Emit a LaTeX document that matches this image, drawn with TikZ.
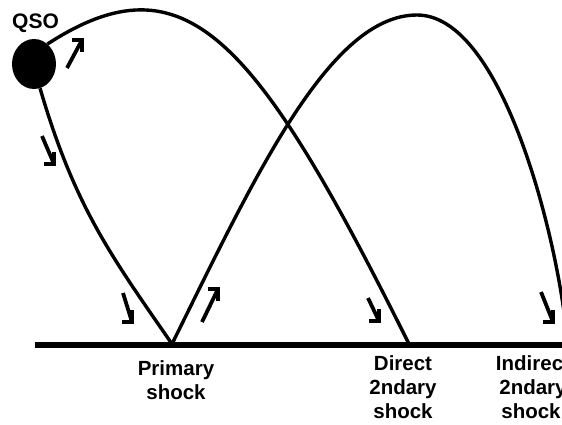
\documentclass[tikz,border=0pt]{standalone}
\usepackage{fontspec}
\setmainfont{Liberation Sans}
\usetikzlibrary{shapes.geometric}
\tikzset{
  curve/.style={line width=3.4pt},
  ground/.style={line width=5.5pt},
  flow/.style={line width=3.8pt, line join=miter, line cap=butt},
  lbl/.style={font=\fontsize{20.5}{24}\selectfont\bfseries, inner sep=0pt, anchor=base},
}
\begin{document}
\begin{tikzpicture}[x=1pt,y=-1pt]
\useasboundingbox (0,0) rectangle (562,424);
\clip (0,0) rectangle (562,424);
% source
\node[ellipse, fill=black, minimum width=44pt, minimum height=50pt, inner sep=0pt] (qso) at (34,64) {};
\node[font=\fontsize{21}{25}\selectfont\bfseries, inner sep=0pt, anchor=base west] (qsolbl) at (12,28) {QSO};
% ground line and shock points
\coordinate (gl) at (35,345);
\coordinate (gr) at (566,345);
\coordinate (ps) at (172,344);
\coordinate (ds) at (409,344);
\coordinate (pk) at (417,15);
\coordinate (ex) at (564,312);
\draw[ground] (gl) -- (gr);
% rays
\draw[curve] (qso.56) .. controls (185,-45) and (255,35) .. (ds);
\draw[curve] (qso.-76) .. controls (75,208) and (112,257) .. (ps);
\draw[curve] (ps) .. controls (256,174) and (330,15) .. (pk)
                  .. controls (497,15) and (550,210) .. (ex);
% direction arrows
\draw[flow] (67,68) -- (82,40);
\draw[flow] (72,40) -- (82,40) -- (82,52);
\draw[flow] (42,136) -- (54,164);
\draw[flow] (44,164) -- (54,164) -- (54,152);
\draw[flow] (123,293) -- (132,322);
\draw[flow] (122,322) -- (132,322) -- (132,310);
\draw[flow] (202,322) -- (218,289);
\draw[flow] (208,289) -- (218,289) -- (218,301);
\draw[flow] (368,298) -- (379,321);
\draw[flow] (369,321) -- (379,321) -- (379,309);
\draw[flow] (541,292) -- (553,322);
\draw[flow] (543,322) -- (553,322) -- (553,310);
% labels
\node[lbl] (p1) at (176,375) {Primary};
\node[lbl] (p2) at (176,399) {shock};
\node[lbl] (d1) at (403,370.5) {Direct};
\node[lbl] (d2) at (403,394.5) {2ndary};
\node[lbl] (d3) at (403,418.5) {shock};
\node[lbl] (i1) at (533,370.5) {Indirect};
\node[lbl] (i2) at (533,394.5) {2ndary};
\node[lbl] (i3) at (531,418.5) {shock};
\end{tikzpicture}
\end{document}
